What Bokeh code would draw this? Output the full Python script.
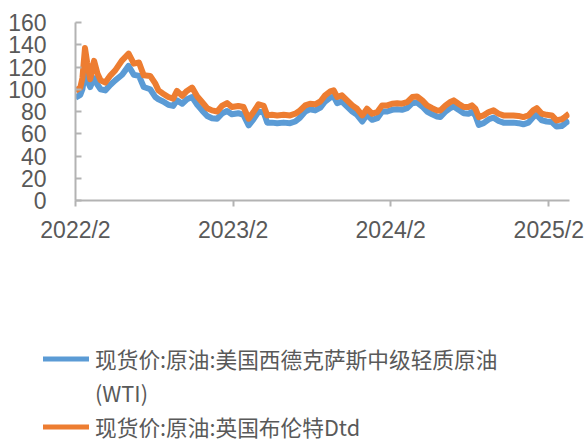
import pandas as pd
from bokeh.plotting import figure
from bokeh.layouts import column, row
from bokeh.models import Range1d, FixedTicker, Legend, LegendItem, ColumnDataSource
from bokeh.embed import file_html
from bokeh.resources import INLINE

# ---- data ----
dates = [
    "2022-02-01", "2022-02-12", "2022-02-17", "2022-02-23", "2022-02-28", "2022-03-07",
    "2022-03-16", "2022-03-24", "2022-03-31", "2022-04-11", "2022-04-23", "2022-05-04",
    "2022-05-20", "2022-06-04", "2022-06-16", "2022-06-28", "2022-07-09", "2022-07-24",
    "2022-08-05", "2022-08-12", "2022-08-23", "2022-09-04", "2022-09-15", "2022-09-24",
    "2022-10-06", "2022-10-17", "2022-10-29", "2022-11-10", "2022-11-21", "2022-12-03",
    "2022-12-14", "2022-12-26", "2023-01-06", "2023-01-18", "2023-01-29", "2023-02-13",
    "2023-02-25", "2023-03-09", "2023-03-20", "2023-04-01", "2023-04-13", "2023-04-21",
    "2023-05-02", "2023-05-14", "2023-05-29", "2023-06-13", "2023-06-25", "2023-07-06",
    "2023-07-18", "2023-07-29", "2023-08-10", "2023-08-22", "2023-09-02", "2023-09-14",
    "2023-09-22", "2023-09-30", "2023-10-11", "2023-10-23", "2023-11-04", "2023-11-15",
    "2023-11-27", "2023-12-08", "2023-12-20", "2024-01-01", "2024-01-12", "2024-01-24",
    "2024-02-04", "2024-02-16", "2024-02-27", "2024-03-10", "2024-03-22", "2024-04-02",
    "2024-04-14", "2024-04-25", "2024-05-07", "2024-05-18", "2024-05-26", "2024-06-07",
    "2024-06-18", "2024-06-26", "2024-07-07", "2024-07-19", "2024-07-30", "2024-08-07",
    "2024-08-15", "2024-08-23", "2024-09-03", "2024-09-15", "2024-09-26", "2024-10-08",
    "2024-10-19", "2024-10-31", "2024-11-11", "2024-11-23", "2024-12-04", "2024-12-16",
    "2024-12-27", "2025-01-04", "2025-01-16", "2025-01-27", "2025-02-08", "2025-02-19",
    "2025-03-03", "2025-03-10", "2025-03-20",
]
wti = [
    92.5, 95, 100, 116, 108, 102, 110, 104, 100, 99, 104, 108,
    113, 121, 113, 112, 102, 100, 93, 91, 89, 86, 85, 90,
    87, 91, 93, 86, 81, 76, 74, 73.5, 78, 80.5, 77.5, 78.5,
    77, 67.5, 73, 80, 79, 70, 70, 69.5, 70, 69.5, 71, 74.5,
    80, 82, 81, 83.5, 89, 92.5, 93.5, 87.5, 89, 84.5, 80, 77,
    71, 77, 72.5, 74, 80, 80, 81.5, 82, 81.5, 83, 87.5, 88,
    84.5, 80, 77.5, 75.5, 75, 80, 83, 84.5, 81.5, 78.5, 78, 79.5,
    76.5, 68, 69.5, 73, 74.5, 71.5, 70, 70, 70, 69.5, 68.5, 70,
    75, 77, 72, 71, 70.5, 66.5, 67, 69, 72,
]
brent = [
    98.5, 101.5, 110, 137, 124, 109, 125.5, 114, 108, 106, 112.5, 117,
    126, 132, 123, 124, 112.5, 112, 105, 99, 96, 93, 91.5, 98.5,
    94, 98.5, 101.5, 93.5, 88.5, 83, 81, 80, 85, 87.5, 84, 85,
    84, 73.5, 79.5, 86.5, 85, 76.5, 77, 76.5, 77, 76.5, 78, 81,
    85.5, 87, 86.5, 89, 94.5, 98, 99, 93, 94.5, 90, 85.5, 82.5,
    76.5, 82.5, 78, 79.5, 85.5, 85.5, 87, 87.5, 87, 88.5, 93, 93.5,
    90, 85.5, 83, 81, 81, 85.5, 88.5, 90, 87, 84, 84, 85.5,
    82.5, 75, 76.5, 79.5, 81, 78, 76.5, 76.5, 76.5, 76, 75, 76.5,
    81, 83, 78, 77, 76.5, 72, 73, 75, 78,
]
# the WTI legend label wraps onto a second line in the reference
wti_name_lines = ["现货价:原油:美国西德克萨斯中级轻质原油", "(WTI)"]
brent_name = "现货价:原油:英国布伦特Dtd"
x_tick_dates = ["2022-02-01", "2023-02-01", "2024-02-01", "2025-02-01"]
x_tick_labels = ["2022/2", "2023/2", "2024/2", "2025/2"]
y_ticks = [0, 20, 40, 60, 80, 100, 120, 140, 160]
x_start, x_end = "2022-02-01", "2025-03-21"

BLUE = "#5B9BD5"
ORANGE = "#ED7D31"
AX = "#b3b3b3"
TXT = "#595959"

src = ColumnDataSource(dict(date=pd.to_datetime(dates), wti=wti, brent=brent))

# ---- main chart ----
p = figure(
    width=585, height=250, x_axis_type="datetime",
    output_backend="svg", toolbar_location=None,
    x_range=Range1d(pd.Timestamp(x_start), pd.Timestamp(x_end)),
    y_range=Range1d(0, 160),
    min_border_left=75, min_border_right=16, min_border_top=22, min_border_bottom=50,
)
p.background_fill_color = "white"
p.border_fill_color = "white"
p.outline_line_color = None
p.xgrid.visible = False
p.ygrid.visible = False

p.line("date", "wti", source=src, line_color=BLUE, line_width=6, line_join="round")
p.line("date", "brent", source=src, line_color=ORANGE, line_width=6, line_join="round")

tick_ms = [int(pd.Timestamp(t).timestamp() * 1000) for t in x_tick_dates]
xa = p.xaxis[0]
xa.ticker = FixedTicker(ticks=tick_ms, minor_ticks=[])
xa.major_label_overrides = dict(zip(tick_ms, x_tick_labels))
ya = p.yaxis[0]
ya.ticker = FixedTicker(ticks=y_ticks, minor_ticks=[])

for ax in (xa, ya):
    ax.axis_line_color = AX
    ax.axis_line_width = 2
    ax.major_tick_line_color = AX
    ax.major_tick_line_width = 2
    ax.minor_tick_line_color = None
    ax.major_label_text_font = "Liberation Sans"
    ax.major_label_text_font_size = "23px"
    ax.major_label_text_color = TXT
xa.major_tick_in = 0
xa.major_tick_out = 6
xa.major_label_standoff = 10
ya.major_tick_in = 6
ya.major_tick_out = 0
ya.major_label_standoff = 29

# ---- legend area (series drawn out of view, shown only as legend keys) ----
lg = figure(
    width=585, height=193, x_axis_type="datetime",
    output_backend="svg", toolbar_location=None,
    x_axis_location=None, y_axis_location=None,
    x_range=Range1d(pd.Timestamp(x_start), pd.Timestamp(x_end)),
    y_range=Range1d(1000, 1001),
    min_border_left=0, min_border_right=0, min_border_top=0, min_border_bottom=0,
)
lg.outline_line_color = None
lg.xgrid.visible = False
lg.ygrid.visible = False
lg.background_fill_color = "white"
lg.border_fill_color = "white"
k_wti = lg.line("date", "wti", source=src, line_color=BLUE, line_width=5, line_cap="round")
k_brent = lg.line("date", "brent", source=src, line_color=ORANGE, line_width=5, line_cap="round")
k_wrap = lg.line(x=[], y=[], line_alpha=0)

legend = Legend(
    items=[LegendItem(label=wti_name_lines[0], renderers=[k_wti]),
           LegendItem(label=wti_name_lines[1], renderers=[k_wrap]),
           LegendItem(label=brent_name, renderers=[k_brent])],
    location=(43, 0),
    orientation="vertical",
    padding=0, margin=0, spacing=1,
    border_line_color=None, background_fill_alpha=0,
    glyph_width=46, glyph_height=33, label_height=33, label_standoff=6,
    label_text_font="Noto Sans CJK SC", label_text_font_size="21.7px",
    label_text_color=TXT, label_text_line_height=1.0,
)
lg.add_layout(legend)

layout = column(p, row(lg, spacing=0), spacing=0)
open("out.html", "w").write(file_html(layout, INLINE))
